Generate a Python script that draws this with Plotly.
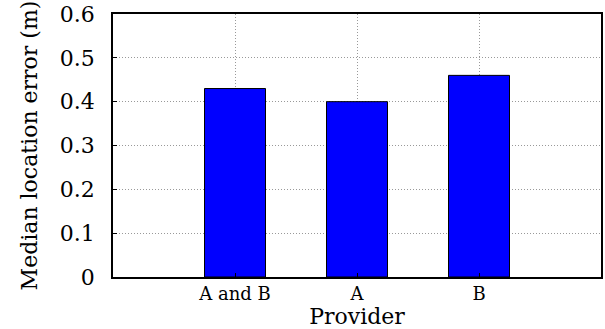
import plotly.graph_objects as go

# Median location error per provider
providers = ["A and B", "A", "B"]
median_error = [0.43, 0.40, 0.46]
y_ticks = [0, 0.1, 0.2, 0.3, 0.4, 0.5, 0.6]
y_tick_text = ["0", "0.1", "0.2", "0.3", "0.4", "0.5", "0.6"]

serif = "DejaVu Serif"
grid_dash = "1px,2px"

fig = go.Figure()
fig.add_trace(go.Bar(
    x=list(range(len(providers))),
    y=median_error,
    width=0.5,
    marker=dict(color="#0000ff", line=dict(color="black", width=1)),
))

fig.update_layout(
    width=605, height=329,
    margin=dict(l=113, r=2, t=11, b=52),
    paper_bgcolor="white", plot_bgcolor="white",
    showlegend=False,
    font=dict(family=serif, color="black"),
)
fig.update_xaxes(
    range=[-1, 3],
    tickvals=list(range(len(providers))),
    ticktext=providers,
    tickfont=dict(size=18, family=serif),
    ticklabelstandoff=0,
    title=dict(text="Provider", font=dict(size=22, family=serif), standoff=0),
    showline=True, linecolor="black", linewidth=1.5, mirror=True,
    ticks="inside", ticklen=4, tickcolor="black",
    showgrid=True, gridcolor="#999", griddash=grid_dash, gridwidth=1,
    zeroline=False,
)
fig.update_yaxes(
    range=[0, 0.6],
    tickvals=y_ticks,
    ticktext=y_tick_text,
    tickfont=dict(size=22, family=serif),
    ticklabelstandoff=12,
    ticklabeloverflow="allow",
    title=dict(text="Median location error (m)", font=dict(size=22, family=serif), standoff=16),
    showline=True, linecolor="black", linewidth=1.5, mirror=True,
    ticks="inside", ticklen=4, tickcolor="black",
    showgrid=True, gridcolor="#999", griddash=grid_dash, gridwidth=1,
    zeroline=False,
)

fig.write_html("out.html")
